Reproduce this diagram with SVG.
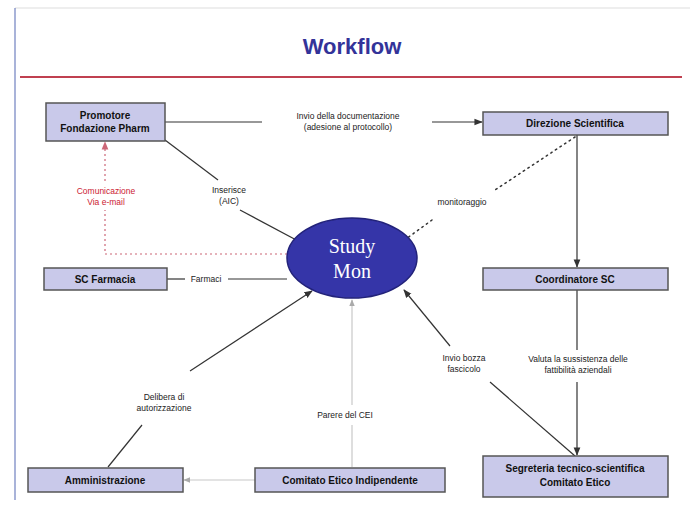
<svg xmlns="http://www.w3.org/2000/svg" width="691" height="508" viewBox="0 0 691 508">
  <defs>
    <marker id="arr" viewBox="0 0 10 10" refX="9" refY="5" markerWidth="7" markerHeight="7" orient="auto-start-reverse">
      <path d="M0,1 L10,5 L0,9 z" fill="#333"/>
    </marker>
    <marker id="arrRed" viewBox="0 0 10 10" refX="9" refY="5" markerWidth="7" markerHeight="7" orient="auto-start-reverse">
      <path d="M0,1 L10,5 L0,9 z" fill="#cc6677"/>
    </marker>
    <marker id="arrPale" viewBox="0 0 10 10" refX="9" refY="5" markerWidth="6" markerHeight="6" orient="auto-start-reverse">
      <path d="M0,1 L10,5 L0,9 z" fill="#aaa"/>
    </marker>
    <style>
      .box { fill: #c9c9ea; stroke: #555; stroke-width: 1.5; }
      .nt { font-family: "Liberation Sans", Arial, sans-serif; font-size: 10px; font-weight: bold; fill: #111; text-anchor: middle; }
      .lbl { font-family: "Liberation Sans", Arial, sans-serif; font-size: 8.5px; fill: #222; text-anchor: middle; }
      .red { fill: #cc2233; }
      .ln { stroke: #333; stroke-width: 1.2; fill: none; }
      .pale { stroke: #c8c8c8; stroke-width: 1.2; fill: none; }
      .dot { stroke: #333; stroke-width: 1.5; fill: none; stroke-dasharray: 1.5 4; stroke-linecap: round; }
      .rdash { stroke: #cc6677; stroke-width: 1.2; fill: none; stroke-dasharray: 2 3; }
    </style>
  </defs>

  <rect width="691" height="508" fill="#fff"/>
  <!-- page frame -->
  <line x1="15" y1="8" x2="690" y2="8" stroke="#dddddd" stroke-width="1"/>
  <line x1="15" y1="8" x2="15" y2="500" stroke="#7080c0" stroke-width="1.2"/>

  <!-- title -->
  <text x="352" y="54" font-family="Liberation Sans, Arial, sans-serif" font-size="22" font-weight="bold" fill="#333399" text-anchor="middle">Workflow</text>
  <line x1="20" y1="77" x2="682" y2="77" stroke="#c04050" stroke-width="2"/>

  <!-- connectors -->
  <g id="connectors">
    <line class="ln" x1="165" y1="122" x2="262" y2="122"/>
    <line class="ln" x1="432" y1="122" x2="482" y2="122" marker-end="url(#arr)"/>
    <text class="lbl" x="348" y="119">Invio della documentazione</text>
    <text class="lbl" x="348" y="130">(adesione al protocollo)</text>

    <line class="ln" x1="165" y1="140" x2="218" y2="180"/>
    <line class="ln" x1="240" y1="210" x2="300" y2="242"/>
    <text class="lbl" x="229" y="193">Inserisce</text>
    <text class="lbl" x="229" y="204">(AIC)</text>

    <polyline class="rdash" points="287,254 105,254 105,142" marker-end="url(#arrRed)"/>
    <rect x="70" y="184" width="72" height="26" fill="#fff"/>
    <text class="lbl red" x="106" y="194">Comunicazione</text>
    <text class="lbl red" x="106" y="205">Via e-mail</text>

    <line class="dot" x1="575" y1="137" x2="495" y2="190"/>
    <line class="dot" x1="432" y1="220" x2="395" y2="247"/>
    <text class="lbl" x="462" y="205">monitoraggio</text>

    <line class="ln" x1="577" y1="135" x2="577" y2="267" marker-end="url(#arr)"/>

    <line class="ln" x1="167" y1="279" x2="185" y2="279"/>
    <line class="ln" x1="228" y1="279" x2="287" y2="279"/>
    <text class="lbl" x="206" y="282">Farmaci</text>

    <line class="ln" x1="577" y1="290" x2="577" y2="350"/>
    <line class="ln" x1="577" y1="382" x2="577" y2="455" marker-end="url(#arr)"/>
    <text class="lbl" x="578" y="362">Valuta la sussistenza delle</text>
    <text class="lbl" x="578" y="373">fattibilità aziendali</text>

    <line class="ln" x1="575" y1="456" x2="490" y2="382"/>
    <line class="ln" x1="450" y1="346" x2="404" y2="290" marker-end="url(#arr)"/>
    <text class="lbl" x="464" y="361">Invio bozza</text>
    <text class="lbl" x="464" y="372">fascicolo</text>

    <line class="ln" x1="108" y1="467" x2="142" y2="425"/>
    <line class="ln" x1="190" y1="371" x2="312" y2="291" marker-end="url(#arr)"/>
    <text class="lbl" x="164" y="400">Delibera di</text>
    <text class="lbl" x="164" y="411">autorizzazione</text>

    <line class="pale" x1="352" y1="467" x2="352" y2="425"/>
    <line class="pale" x1="352" y1="405" x2="352" y2="300" marker-end="url(#arrPale)"/>
    <text class="lbl" x="345" y="418">Parere del CEI</text>

    <line class="pale" x1="255" y1="480" x2="184" y2="480" marker-end="url(#arrPale)"/>
  </g>

  <!-- nodes -->
  <g id="promotore">
    <rect class="box" x="46" y="103" width="119" height="38"/>
    <text class="nt" x="105" y="119">Promotore</text>
    <text class="nt" x="105" y="132" font-weight="normal">Fondazione Pharm</text>
  </g>
  <g id="direzione-scientifica">
    <rect class="box" x="483" y="112" width="185" height="23"/>
    <text class="nt" x="575" y="127">Direzione Scientifica</text>
  </g>
  <g id="sc-farmacia">
    <rect class="box" x="44" y="268" width="123" height="22"/>
    <text class="nt" x="105" y="283">SC Farmacia</text>
  </g>
  <g id="coordinatore-sc">
    <rect class="box" x="483" y="268" width="185" height="22"/>
    <text class="nt" x="575" y="283">Coordinatore SC</text>
  </g>
  <g id="amministrazione">
    <rect class="box" x="28" y="468" width="155" height="24"/>
    <text class="nt" x="105" y="484">Amministrazione</text>
  </g>
  <g id="comitato-etico-indipendente">
    <rect class="box" x="255" y="468" width="190" height="24"/>
    <text class="nt" x="350" y="484">Comitato Etico Indipendente</text>
  </g>
  <g id="segreteria">
    <rect class="box" x="483" y="456" width="185" height="41"/>
    <text class="nt" x="575" y="472">Segreteria tecnico-scientifica</text>
    <text class="nt" x="575" y="486">Comitato Etico</text>
  </g>
  <g id="study-mon">
    <ellipse cx="352" cy="258" rx="65" ry="40" fill="#3535a8" stroke="#22227a" stroke-width="1.5"/>
    <text x="352" y="253" font-family="Liberation Serif, Times New Roman, serif" font-size="20" fill="#fff" text-anchor="middle">Study</text>
    <text x="352" y="278" font-family="Liberation Serif, Times New Roman, serif" font-size="20" fill="#fff" text-anchor="middle">Mon</text>
  </g>
</svg>
